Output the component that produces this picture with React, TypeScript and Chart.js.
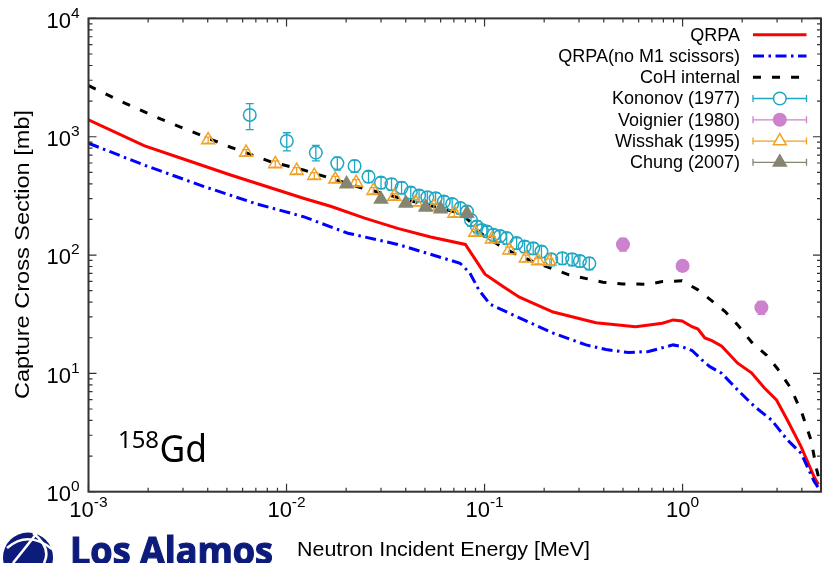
import React, { useEffect, useRef } from 'react';
import { Chart, registerables } from 'chart.js';

Chart.register(...registerables);

// Neutron capture cross section of 158Gd: energies in MeV, cross sections in mb.
const qrpaEnergy = [0.001, 0.00192, 0.00304, 0.00522, 0.01217, 0.01684, 0.0248, 0.0364, 0.0534, 0.080, 0.1005, 0.1245, 0.150, 0.222, 0.365, 0.579, 0.791, 0.896, 0.994, 1.116, 1.196, 1.296, 1.405, 1.577, 1.897, 2.228, 2.59, 2.98, 3.38, 3.97, 4.62, 4.85];
const qrpaXs = [1387, 836, 645, 475, 302, 257, 205, 168, 142, 123, 69, 54, 44, 33, 26.8, 24.8, 26.5, 28.3, 27.7, 24.8, 23.7, 19.9, 18.9, 17.0, 12.2, 10.1, 7.53, 5.96, 4.04, 2.39, 1.33, 1.15];

const noM1Energy = [0.001, 0.0019, 0.00384, 0.00709, 0.01217, 0.0204, 0.0364, 0.0752, 0.0843, 0.0936, 0.1064, 0.150, 0.222, 0.3256, 0.41, 0.535, 0.673, 0.896, 0.994, 1.116, 1.252, 1.373, 1.577, 1.897, 2.31, 2.81, 3.38, 3.97, 4.62, 4.85];
const noM1Xs = [881, 578, 379, 270, 211, 153, 123, 85.3, 70.6, 50.7, 38.5, 29.4, 21.9, 17.4, 15.9, 15.0, 15.3, 17.4, 16.8, 15.6, 13.0, 11.4, 10.0, 7.24, 5.24, 4.04, 2.74, 2.11, 1.22, 1.08];

const cohEnergy = [0.001, 0.001525, 0.002326, 0.00522, 0.00828, 0.01217, 0.0229, 0.0377, 0.0699, 0.0755, 0.0847, 0.0947, 0.1175, 0.1397, 0.176, 0.267, 0.396, 0.499, 0.673, 0.791, 0.994, 1.196, 1.405, 1.64, 1.897, 2.26, 2.65, 3.01, 3.53, 4.01, 4.45, 4.76, 4.9];
const cohXs = [2704, 1920, 1406, 815, 616, 524, 378, 302, 233, 226, 191, 155, 122, 104, 88, 68, 59, 57, 56.7, 59.7, 60.5, 50.8, 41, 33.3, 25.7, 17.9, 14.3, 11.0, 7.43, 4.6, 2.73, 1.53, 1.25];

const kononovEnergy = [0.00652, 0.01003, 0.01406, 0.01805, 0.02206, 0.02594, 0.0300, 0.0339, 0.0381, 0.0424, 0.0467, 0.0514, 0.0566, 0.0623, 0.0686, 0.0755, 0.0815, 0.0854, 0.0915, 0.0969, 0.1027, 0.1109, 0.1197, 0.1294, 0.1452, 0.1592, 0.1760, 0.1937, 0.2170, 0.2470, 0.2770, 0.3030, 0.3380];
const kononovXs = [1528, 920, 734, 597, 566, 460, 409, 397, 371, 337, 318, 308, 302, 283, 270, 249, 233, 198, 174, 163, 158, 148, 145, 139, 126, 118, 114, 107, 92, 94, 92, 89, 85];
const kononovErr = [380, 160, 110, 75, 65, 50, 45, 45, 42, 38, 36, 35, 34, 32, 30, 28, 26, 22, 20, 18, 17, 17, 16, 16, 14, 13, 13, 12, 11, 11, 11, 10, 10];

const voignierEnergy = [0.5, 1.0, 2.5];
const voignierXs = [123, 81, 36];
const voignierErr = [15, 8, 4.5];

const wisshakEnergy = [0.00402, 0.00625, 0.00877, 0.01125, 0.0138, 0.01764, 0.02247, 0.02748, 0.0350, 0.0449, 0.0555, 0.0704, 0.0897, 0.1088, 0.1334, 0.1616, 0.1865, 0.2132];
const wisshakXs = [937, 734, 589, 517, 469, 437, 409, 350, 312, 279, 256, 225, 155, 136, 110, 94, 89, 88];
const wisshakErr = [55, 44, 35, 31, 28, 26, 25, 21, 19, 17, 15, 14, 9, 8, 7, 6, 5, 5];

const chungEnergy = [0.0201, 0.030, 0.040, 0.0504, 0.060, 0.0815];
const chungXs = [399, 296, 274, 253, 245, 225];

// Axis decades and their exponent labels
const xDecades = [1e-3, 1e-2, 1e-1, 1];
const xDecadeLabels = ['-3', '-2', '-1', '0'];
const yDecades = [1, 10, 100, 1000, 10000];
const yDecadeLabels = ['0', '1', '2', '3', '4'];

const W = 830;
const H = 563;
const FONT = '"Liberation Sans", Arial, Helvetica, sans-serif';

const RED = '#ff0000';
const BLUE = '#0000ff';
const BLACK = '#000000';
const CYAN = '#1ea8c4';
const VIOLET = '#cc82cc';
const ORANGE = '#f2a127';
const OLIVE = '#858572';

const pts = (xs: number[], ys: number[]) => xs.map((x, i) => ({ x, y: ys[i] }));

function drawMarker(ctx: CanvasRenderingContext2D, style: string, x: number, y: number, r: number, stroke: string, fill: string | null, lw: number) {
  ctx.beginPath();
  if (style === 'circle') {
    ctx.arc(x, y, r, 0, Math.PI * 2);
  } else {
    for (let k = 0; k < 3; k++) {
      const a = (k * 2 * Math.PI) / 3;
      const px = x + Math.sin(a) * r;
      const py = y - Math.cos(a) * r;
      if (k === 0) ctx.moveTo(px, py);
      else ctx.lineTo(px, py);
    }
    ctx.closePath();
  }
  if (fill) {
    ctx.fillStyle = fill;
    ctx.fill();
  }
  ctx.lineWidth = lw;
  ctx.strokeStyle = stroke;
  ctx.stroke();
}

// Vertical error bars, drawn just before each marker dataset so markers sit on top
const errorBarPlugin = {
  id: 'errorBars',
  beforeDatasetDraw(chart: any, args: any) {
    const ds = chart.data.datasets[args.index];
    const err: number[] | undefined = ds.yErr;
    if (!err) return;
    const { ctx, scales } = chart;
    const { x, y } = scales;
    ctx.save();
    ctx.strokeStyle = ds.pointBorderColor;
    ctx.lineWidth = 1.3;
    ctx.beginPath();
    (ds.data as { x: number; y: number }[]).forEach((p, j) => {
      const px = x.getPixelForValue(p.x);
      const y1 = y.getPixelForValue(p.y + err[j]);
      const y2 = y.getPixelForValue(Math.max(p.y - err[j], 1e-6));
      ctx.moveTo(px, y1);
      ctx.lineTo(px, y2);
      ctx.moveTo(px - 4, y1);
      ctx.lineTo(px + 4, y1);
      ctx.moveTo(px - 4, y2);
      ctx.lineTo(px + 4, y2);
    });
    ctx.stroke();
    ctx.restore();
  },
};

function drawPower(ctx: CanvasRenderingContext2D, exp: string, xPos: number, baseY: number, align: 'right' | 'center') {
  ctx.font = `22px ${FONT}`;
  const wb = ctx.measureText('10').width;
  ctx.font = `15.5px ${FONT}`;
  const we = ctx.measureText(exp).width;
  const start = align === 'right' ? xPos - wb - we : xPos - (wb + we) / 2;
  ctx.textAlign = 'left';
  ctx.textBaseline = 'alphabetic';
  ctx.font = `22px ${FONT}`;
  ctx.fillText('10', start, baseY);
  ctx.font = `15.5px ${FONT}`;
  ctx.fillText(exp, start + wb, baseY - 10);
}

// Text stretched along its own direction to a given length
function fitText(ctx: CanvasRenderingContext2D, text: string, cx: number, cy: number, length: number, angle: number) {
  const w = ctx.measureText(text).width;
  ctx.save();
  ctx.translate(cx, cy);
  ctx.rotate(angle);
  ctx.scale(length / w, 1);
  ctx.textAlign = 'center';
  ctx.fillText(text, 0, 0);
  ctx.restore();
}

const framePlugin = {
  id: 'frame',
  afterDraw(chart: any) {
    const { ctx, chartArea: a, scales } = chart;
    const { x, y } = scales;
    ctx.save();

    // Border box
    ctx.strokeStyle = '#333';
    ctx.lineWidth = 2;
    ctx.strokeRect(a.left, a.top, a.right - a.left, a.bottom - a.top);

    // Inward tick marks on all four sides
    ctx.lineWidth = 1.2;
    ctx.beginPath();
    for (let k = -3; k <= 0; k++) {
      for (let m = 1; m <= 9; m++) {
        const v = m * Math.pow(10, k);
        if (v < x.min * 0.999 || v > x.max) continue;
        const px = x.getPixelForValue(v);
        const len = m === 1 ? 8 : 4;
        ctx.moveTo(px, a.bottom);
        ctx.lineTo(px, a.bottom - len);
        ctx.moveTo(px, a.top);
        ctx.lineTo(px, a.top + len);
      }
    }
    for (let k = 0; k <= 4; k++) {
      for (let m = 1; m <= 9; m++) {
        const v = m * Math.pow(10, k);
        if (v > y.max * 1.001) continue;
        const py = y.getPixelForValue(v);
        const len = m === 1 ? 8 : 4;
        ctx.moveTo(a.left, py);
        ctx.lineTo(a.left + len, py);
        ctx.moveTo(a.right, py);
        ctx.lineTo(a.right - len, py);
      }
    }
    ctx.stroke();

    // Tick labels
    ctx.fillStyle = '#000';
    xDecades.forEach((v, i) => drawPower(ctx, xDecadeLabels[i], x.getPixelForValue(v), a.bottom + 25, 'center'));
    yDecades.forEach((v, i) => drawPower(ctx, yDecadeLabels[i], a.left - 9, y.getPixelForValue(v) + 9.4, 'right'));

    // Axis titles
    ctx.font = `21px ${FONT}`;
    ctx.textBaseline = 'alphabetic';
    fitText(ctx, 'Neutron Incident Energy [MeV]', 443.5, 555.5, 293, 0);
    fitText(ctx, 'Capture Cross Section [mb]', 28.5, 254.5, 289, -Math.PI / 2);

    // Legend: right-aligned labels with samples on the right
    const rows = chart.data.datasets;
    ctx.font = `18px ${FONT}`;
    ctx.textAlign = 'right';
    ctx.textBaseline = 'middle';
    rows.forEach((ds: any, i: number) => {
      const ry = 34.7 + 21.27 * i;
      ctx.fillStyle = '#000';
      ctx.fillText(ds.label, 740, ry + 1);
      const x0 = 753;
      const x1 = 806.5;
      ctx.save();
      if (ds.showLine) {
        ctx.strokeStyle = ds.borderColor;
        ctx.lineWidth = ds.borderWidth;
        ctx.setLineDash(ds.borderDash || []);
        ctx.beginPath();
        ctx.moveTo(x0, ry);
        ctx.lineTo(x1, ry);
        ctx.stroke();
      } else {
        ctx.strokeStyle = ds.pointBorderColor;
        ctx.lineWidth = 1.3;
        ctx.beginPath();
        ctx.moveTo(x0, ry);
        ctx.lineTo(x1, ry);
        ctx.moveTo(x0, ry - 3.5);
        ctx.lineTo(x0, ry + 3.5);
        ctx.moveTo(x1, ry - 3.5);
        ctx.lineTo(x1, ry + 3.5);
        ctx.stroke();
        const filled = ds.pointBackgroundColor !== 'rgba(0,0,0,0)';
        drawMarker(ctx, ds.pointStyle, 779.8, ry, ds.pointRadius, ds.pointBorderColor, filled ? ds.pointBackgroundColor : '#ffffff', ds.pointBorderWidth);
      }
      ctx.restore();
    });

    // Nuclide annotation
    ctx.fillStyle = '#000';
    ctx.textAlign = 'left';
    ctx.textBaseline = 'alphabetic';
    ctx.font = `24px "Noto Sans", "Open Sans", sans-serif`;
    const w158 = ctx.measureText('158').width;
    ctx.save();
    ctx.translate(118, 448);
    ctx.scale(41 / w158, 1);
    ctx.fillText('158', 0, 0);
    ctx.restore();
    ctx.font = `39px "Noto Sans", "Open Sans", sans-serif`;
    const wGd = ctx.measureText('Gd').width;
    ctx.save();
    ctx.translate(159.5, 461.5);
    ctx.scale(47.5 / wGd, 1);
    ctx.fillText('Gd', 0, 0);
    ctx.restore();

    // Laboratory logo
    const navy = '#0d1b7b';
    ctx.fillStyle = navy;
    ctx.beginPath();
    ctx.arc(28, 557.5, 25, 0, Math.PI * 2);
    ctx.fill();
    ctx.strokeStyle = '#ffffff';
    ctx.lineWidth = 2.6;
    ctx.beginPath();
    ctx.moveTo(7, 548);
    ctx.quadraticCurveTo(28, 530, 52, 549);
    ctx.stroke();
    ctx.beginPath();
    ctx.moveTo(37, 533);
    ctx.quadraticCurveTo(22, 552, 13, 563);
    ctx.stroke();
    ctx.beginPath();
    ctx.moveTo(33, 533);
    ctx.quadraticCurveTo(52, 548, 44, 563);
    ctx.stroke();
    ctx.font = `bold 37px "Open Sans", "Noto Sans", sans-serif`;
    const wLogo = ctx.measureText('Los Alamos').width;
    ctx.fillStyle = navy;
    ctx.lineWidth = 1.2;
    ctx.strokeStyle = navy;
    ctx.save();
    ctx.translate(70, 564);
    ctx.scale(203 / wLogo, 1);
    ctx.fillText('Los Alamos', 0, 0);
    ctx.strokeText('Los Alamos', 0, 0);
    ctx.restore();

    ctx.restore();
  },
};

export default function App() {
  const canvasRef = useRef<HTMLCanvasElement | null>(null);

  useEffect(() => {
    const canvas = canvasRef.current;
    if (!canvas) return;
    const lineSet = (label: string, xs: number[], ys: number[], color: string, dash: number[], order: number) => ({
      label,
      data: pts(xs, ys),
      showLine: true,
      borderColor: color,
      borderWidth: 3,
      borderDash: dash,
      borderCapStyle: 'butt',
      pointRadius: 0,
      fill: false,
      tension: 0,
      order,
    });
    const markerSet = (label: string, xs: number[], ys: number[], err: number[] | null, color: string, style: string, radius: number, filled: boolean, order: number) => ({
      label,
      data: pts(xs, ys),
      showLine: false,
      pointStyle: style,
      pointRadius: radius,
      pointBorderWidth: 1.5,
      pointBorderColor: color,
      pointBackgroundColor: filled ? color : 'rgba(0,0,0,0)',
      borderColor: color,
      yErr: err,
      order,
    });

    const chart = new Chart(canvas, {
      type: 'scatter',
      data: {
        datasets: [
          lineSet('QRPA', qrpaEnergy, qrpaXs, RED, [], 10),
          lineSet('QRPA(no M1 scissors)', noM1Energy, noM1Xs, BLUE, [11, 4.5, 2.5, 4.5], 9),
          lineSet('CoH internal', cohEnergy, cohXs, BLACK, [8, 11], 8),
          markerSet('Kononov (1977)', kononovEnergy, kononovXs, kononovErr, CYAN, 'circle', 6.3, false, 4),
          markerSet('Voignier (1980)', voignierEnergy, voignierXs, voignierErr, VIOLET, 'circle', 6.3, true, 3),
          markerSet('Wisshak (1995)', wisshakEnergy, wisshakXs, wisshakErr, ORANGE, 'triangle', 7.5, false, 2),
          markerSet('Chung (2007)', chungEnergy, chungXs, null, OLIVE, 'triangle', 7.5, true, 1),
        ] as any,
      },
      options: {
        animation: false,
        responsive: false,
        devicePixelRatio: 1,
        events: [],
        layout: { padding: { left: 88.5, top: 18.4, right: W - 826.8, bottom: H - 491.7 } },
        plugins: { legend: { display: false }, tooltip: { enabled: false } },
        scales: {
          x: { type: 'logarithmic', min: 0.001, max: 5, display: false },
          y: { type: 'logarithmic', min: 1, max: 10000, display: false },
        },
      },
      plugins: [errorBarPlugin, framePlugin],
    });
    return () => chart.destroy();
  }, []);

  return (
    <div style={{ position: 'fixed', left: 0, top: 0, width: W, height: H, background: '#ffffff' }}>
      <canvas ref={canvasRef} width={W} height={H} style={{ display: 'block', width: W, height: H }} />
    </div>
  );
}
